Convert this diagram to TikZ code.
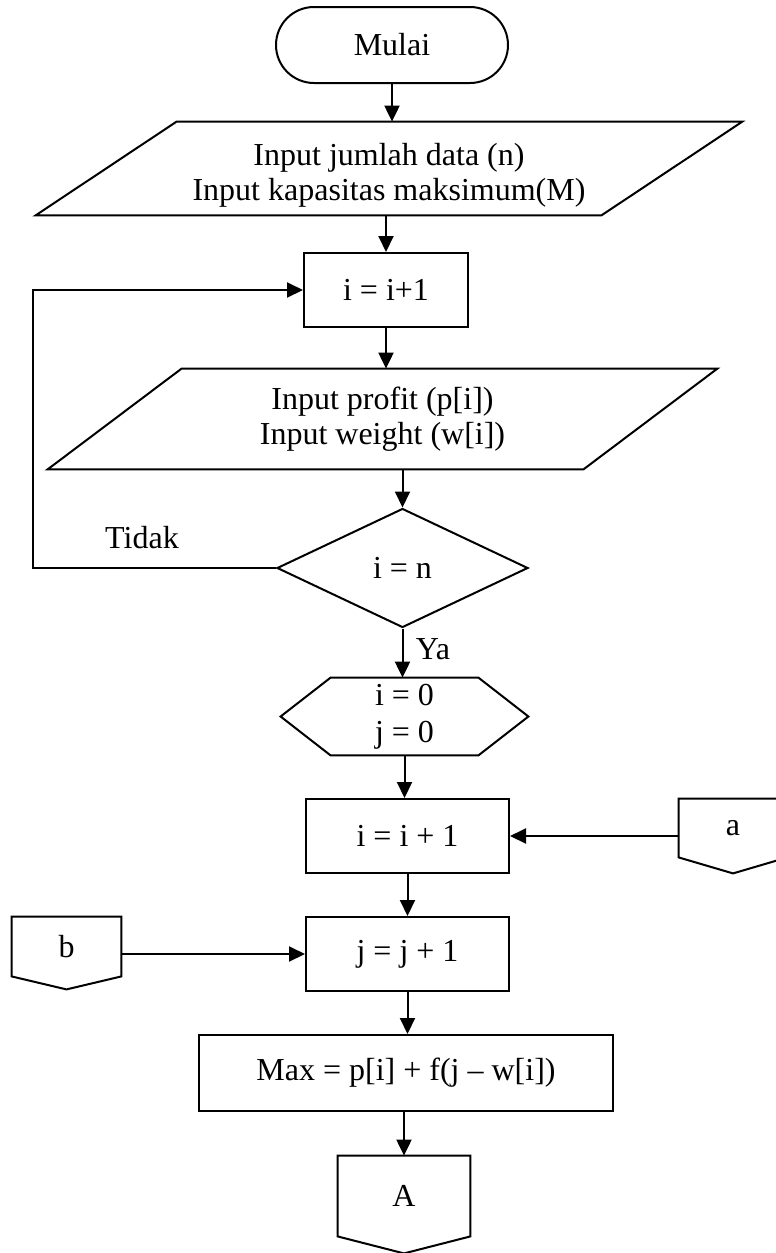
\documentclass[tikz,border=0pt]{standalone}
\usepackage{fontspec}
\setmainfont{Liberation Serif}
\usetikzlibrary{shapes.geometric,arrows.meta,calc}

\begin{document}
\begin{tikzpicture}[x=0.5pt,y=-0.5pt,
  txt/.style={font=\fontsize{16}{17.5}\selectfont, inner sep=0pt, align=center},
  lw/.style={line width=1pt},
  arr/.style={lw, -{Triangle[length=8pt,width=7.5pt]}},
  proc/.style={txt, draw, lw, rectangle},
  frame/.style={txt, rectangle}]
\useasboundingbox (0,0) rectangle (776,1253);

% terminal
\node[txt, draw, lw, rounded corners=19pt, minimum width=116pt, minimum height=38pt] (start) at (392,45) {Mulai};

% first input (parallelogram); its text sits a little below the middle
\node[frame, minimum width=282.5pt, minimum height=46.5pt,
  label={[txt, yshift=-3.5pt]center:{Input jumlah data (n)\\Input kapasitas maksimum(M)}}] (in1) at (389,168.5) {};
\draw[lw] ($(in1.north west)+(70.5,0)$) -- ($(in1.north east)+(70.5,0)$)
  -- ($(in1.south east)+(-70.5,0)$) -- ($(in1.south west)+(-70.5,0)$) -- cycle;

% counter
\node[proc, minimum width=82pt, minimum height=37pt] (inc1) at (386,290) {i = i+1};

% second input (parallelogram)
\node[frame, minimum width=267.5pt, minimum height=50pt] (in2) at (382.5,419)
  {Input profit (p[i])\\Input weight (w[i])};
\draw[lw] ($(in2.north west)+(67,0)$) -- ($(in2.north east)+(67,0)$)
  -- ($(in2.south east)+(-67,0)$) -- ($(in2.south west)+(-67,0)$) -- cycle;

% decision
\node[txt, draw, lw, diamond, minimum width=125.5pt, minimum height=59.5pt] (dec) at (402.5,568) {i = n};

% preparation (hexagon)
\node[frame, minimum width=123.5pt, minimum height=38.5pt] (init) at (404.5,716.5) {i = 0\\[1pt]j = 0};
\draw[lw] (init.west) -- ($(init.north west)+(50,0)$) -- ($(init.north east)+(-50,0)$)
  -- (init.east) -- ($(init.south east)+(-50,0)$) -- ($(init.south west)+(50,0)$) -- cycle;

% loop bodies
\node[proc, minimum width=101.5pt, minimum height=37pt] (inc2) at (407.5,836) {i = i + 1};
\node[proc, minimum width=101.5pt, minimum height=37pt] (incj) at (407.5,954) {j = j + 1};
\node[proc, minimum width=207pt, minimum height=38pt] (max) at (406,1073) {Max = p[i] + f(j – w[i])};

% off-page connectors
\node[frame, minimum width=54pt, minimum height=29pt] (cona) at (733,828) {a};
\draw[lw] (cona.south west) -- (cona.north west) -- (cona.north east) -- (cona.south east)
  -- ($(cona.south)+(0,16)$) -- cycle;
\node[frame, minimum width=54.5pt, minimum height=29.5pt] (conb) at (66.5,946.5) {b};
\draw[lw] (conb.south west) -- (conb.north west) -- (conb.north east) -- (conb.south east)
  -- ($(conb.south)+(0,13)$) -- cycle;
\node[frame, minimum width=66pt, minimum height=40pt] (conA) at (404,1196) {A};
\draw[lw] (conA.south west) -- (conA.north west) -- (conA.north east) -- (conA.south east)
  -- ($(conA.south)+(0,17)$) -- cycle;

% branch labels
\node[txt] (no) at (142,538) {Tidak};
\node[txt] (yes) at (433,649) {Ya};

% connectors
\draw[arr] (start.south) -- (start.south |- in1.north);
\draw[arr] (inc1.north |- in1.south) -- (inc1.north);
\draw[arr] (inc1.south) -- (inc1.south |- in2.north);
\draw[arr] (dec.north |- in2.south) -- (dec.north);
\coordinate (back) at (33,568);
\draw[arr] (dec.west) -- (back) |- (inc1.west);
\draw[arr] (dec.south) -- (dec.south |- init.north);
\draw[arr] (init.south) -- (init.south |- inc2.north);
\draw[arr] (inc2.east -| cona.west) -- (inc2.east);
\draw[arr] (inc2.south) -- (incj.north);
\draw[arr] (incj.west -| conb.east) -- (incj.west);
\draw[arr] (incj.south) -- (incj.south |- max.north);
\draw[arr] (conA.north |- max.south) -- (conA.north);
\end{tikzpicture}
\end{document}
